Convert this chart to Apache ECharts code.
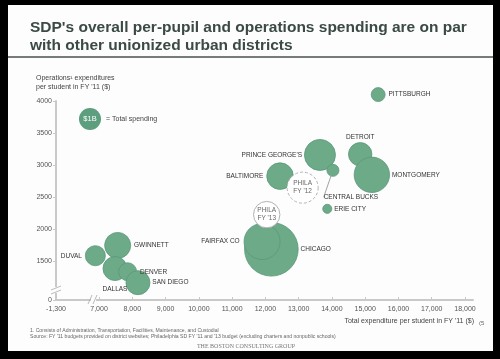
<!DOCTYPE html>
<html><head><meta charset="utf-8">
<script src="https://cdn.jsdelivr.net/npm/echarts@6/dist/echarts.min.js"></script>
<style>html,body{margin:0;padding:0;background:#000}#c{width:500px;height:359px}</style>
</head><body><div id="c"></div>
<script>
// ---- data ----
const districts = ['PITTSBURGH','DETROIT','MONTGOMERY',"PRINCE GEORGE'S",'CENTRAL BUCKS','BALTIMORE','ERIE CITY','CHICAGO','FAIRFAX CO','GWINNETT','DUVAL','DALLAS','DENVER','SAN DIEGO'];
const totalPerStudent = [15390,14850,15200,13640,14030,12440,13860,12180,11900,7560,6890,7480,7860,8170];
const opsPerStudent   = [4100,3170,2850,3160,2920,2830,2320,1690,1810,1750,1590,1390,1340,1170];
const totalSpendingB  = [0.40,1.13,2.59,1.99,0.30,1.46,0.17,5.94,2.68,1.40,0.83,1.19,0.67,1.19];
const philaLabels = ["PHILA\nFY '12","PHILA\nFY '13"];
const philaTotal = [13120,12040];
const philaOps = [2650,2230];
const philaSpendingB = [1.99,1.44];
const xTickValues = [5707,7000,8000,9000,10000,11000,12000,13000,14000,15000,16000,17000,18000];
const xTickLabels = ['-1,300','7,000','8,000','9,000','10,000','11,000','12,000','13,000','14,000','15,000','16,000','17,000','18,000'];
const yTickValues = [900,1500,2000,2500,3000,3500,4000];
const yTickLabels = ['0','1500','2000','2500','3000','3500','4000'];
const legendSpendingB = 1;

// ---- styling ----
const GREEN = '#6daa87', GREEN_EDGE = '#5a987b';
const sizeOf = v => 22 * Math.sqrt(v);
const labelPlace = {
  'PITTSBURGH': {position:'right', distance:3},
  'DETROIT': {position:'top', distance:1},
  'MONTGOMERY': {position:'right', distance:2},
  "PRINCE GEORGE'S": {position:'left', distance:2},
  'CENTRAL BUCKS': {position:'bottom', distance:4},
  'BALTIMORE': {position:'left', distance:3, offset:[0,1]},
  'ERIE CITY': {position:'right', distance:2},
  'CHICAGO': {position:'right', distance:2, offset:[0,-2]},
  'FAIRFAX CO': {position:'left', distance:4},
  'GWINNETT': {position:'right', distance:3, offset:[0,1]},
  'DUVAL': {position:'left', distance:3, offset:[0,2]},
  'DALLAS': {position:'bottom', distance:5, offset:[-4,0]},
  'DENVER': {position:'right', distance:3, offset:[0,-4]},
  'SAN DIEGO': {position:'right', distance:2, offset:[0,2]}
};
const xLab = v => xTickLabels[xTickValues.indexOf(v)] ?? '';
const yLab = v => yTickLabels[yTickValues.indexOf(v)] ?? '';

const greenData = districts.map((n,i) => {
  const item = {name:n, value:[totalPerStudent[i], opsPerStudent[i], totalSpendingB[i]],
    label: Object.assign({show:true}, labelPlace[n])};
  if (n === 'CENTRAL BUCKS') item.labelLine = {show:true, lineStyle:{color:'#8a8a8a', width:0.8}};
  return item;
});
const philaData = philaLabels.map((n,i) => ({name:n, value:[philaTotal[i], philaOps[i], philaSpendingB[i]],
  itemStyle: {borderType: i === 0 ? [3,2] : 'solid'}}));

const FONT = "'Liberation Sans', Arial, sans-serif";
const chart = echarts.init(document.getElementById('c'), null, {renderer:'canvas'});
chart.setOption({
  backgroundColor:'#000',
  animation:false,
  title:{
    text:"SDP's overall per-pupil and operations spending are on par\nwith other unionized urban districts",
    left:30, top:18, padding:0,
    textStyle:{color:'#3b4a45', fontSize:15.5, fontWeight:'bold', fontFamily:FONT, lineHeight:18.5}
  },
  grid:{left:56, right:27, top:101, bottom:59},
  xAxis:{
    type:'value', min:5707, max:18240,
    splitLine:{show:false},
    axisLine:{lineStyle:{color:'#c9c9c9', width:2}},
    axisTick:{show:true, inside:true, length:3, customValues:xTickValues, lineStyle:{color:'#c9c9c9'}},
    axisLabel:{customValues:xTickValues, formatter:xLab, color:'#555', fontSize:7, fontFamily:FONT, margin:6}
  },
  yAxis:{
    type:'value', min:900, max:4000,
    splitLine:{show:false},
    axisLine:{show:true, lineStyle:{color:'#c9c9c9', width:2}},
    axisTick:{show:true, length:3, customValues:yTickValues, lineStyle:{color:'#c9c9c9'}},
    axisLabel:{customValues:yTickValues, formatter:yLab, color:'#555', fontSize:7, fontFamily:FONT, margin:4}
  },
  series:[
    {type:'scatter', clip:false, z:3,
     symbolSize: v => sizeOf(v[2]),
     itemStyle:{color:GREEN, borderColor:GREEN_EDGE, borderWidth:0.8, opacity:1},
     label:{show:true, formatter:'{b}', color:'#333', fontSize:6.5, fontFamily:FONT},
     labelLayout: p => p.dataIndex === 4 ? {dx:18, dy:13} : {},
     emphasis:{disabled:true},
     data:greenData},
    {type:'scatter', clip:false, z:4,
     symbolSize: v => sizeOf(v[2]),
     itemStyle:{color:'#fff', borderColor:'#a9a9a9', borderWidth:0.9, opacity:1},
     label:{show:true, position:'inside', formatter:'{b}', color:'#666', fontSize:6.5, fontFamily:FONT, lineHeight:8},
     emphasis:{disabled:true},
     data:philaData}
  ],
  graphic:[
    {type:'rect', z:-10, silent:true, shape:{x:8, y:5, width:485, height:346}, style:{fill:'#fdfdfd'}},
    {type:'line', z:1, shape:{x1:8, y1:57, x2:493, y2:57}, style:{stroke:'#4a504e', lineWidth:1.5}},
    {type:'text', left:36, top:73, style:{text:"Operations\u00b9 expenditures\nper student in FY '11 ($)", fill:'#444', fontSize:7, fontFamily:FONT, lineHeight:9.5}},
    {type:'circle', shape:{cx:90, cy:119, r:sizeOf(legendSpendingB)/2}, style:{fill:'#5c9e7d'}},
    {type:'text', x:90, y:119, style:{text:'$1B', fill:'#fff', fontSize:7.5, fontFamily:FONT, align:'center', verticalAlign:'middle'}},
    {type:'text', x:106, y:119.5, style:{text:'= Total spending', fill:'#444', fontSize:7, fontFamily:FONT, verticalAlign:'middle'}},
    {type:'text', x:474, y:321, style:{text:"Total expenditure per student in FY '11 ($)", fill:'#444', fontSize:7, fontFamily:FONT, align:'right', verticalAlign:'middle'}},
    {type:'text', x:479, y:323, style:{text:"(5", fill:'#666', fontSize:6, fontFamily:FONT, verticalAlign:'middle'}},
    {type:'text', x:30, y:330.5, style:{text:"1. Consists of Administration, Transportation, Facilities, Maintenance, and Custodial", fill:'#666', fontSize:5.1, fontFamily:FONT, verticalAlign:'middle'}},
    {type:'text', x:30, y:336.5, style:{text:"Source: FY '11 budgets provided on district websites; Philadelphia SD FY '11 and '13 budget (excluding charters and nonpublic schools)", fill:'#666', fontSize:5.1, fontFamily:FONT, verticalAlign:'middle'}},
    {type:'text', x:246, y:346.5, style:{text:"THE BOSTON CONSULTING GROUP", fill:'#777', fontSize:6, fontFamily:"'Liberation Serif', serif", align:'center', verticalAlign:'middle'}},
    // axis breaks
    {type:'rect', z:5, shape:{x:51, y:287, width:11, height:6}, style:{fill:'#fdfdfd'}},
    {type:'line', z:6, shape:{x1:51, y1:290, x2:61, y2:286}, style:{stroke:'#aaa', lineWidth:0.8}},
    {type:'line', z:6, shape:{x1:51, y1:294, x2:61, y2:290}, style:{stroke:'#aaa', lineWidth:0.8}},
    {type:'rect', z:5, shape:{x:91, y:297, width:5, height:6}, style:{fill:'#fdfdfd'}},
    {type:'line', z:6, shape:{x1:88, y1:304, x2:92, y2:295}, style:{stroke:'#aaa', lineWidth:0.8}},
    {type:'line', z:6, shape:{x1:93, y1:304, x2:97, y2:295}, style:{stroke:'#aaa', lineWidth:0.8}}
  ]
});
</script></body></html>
